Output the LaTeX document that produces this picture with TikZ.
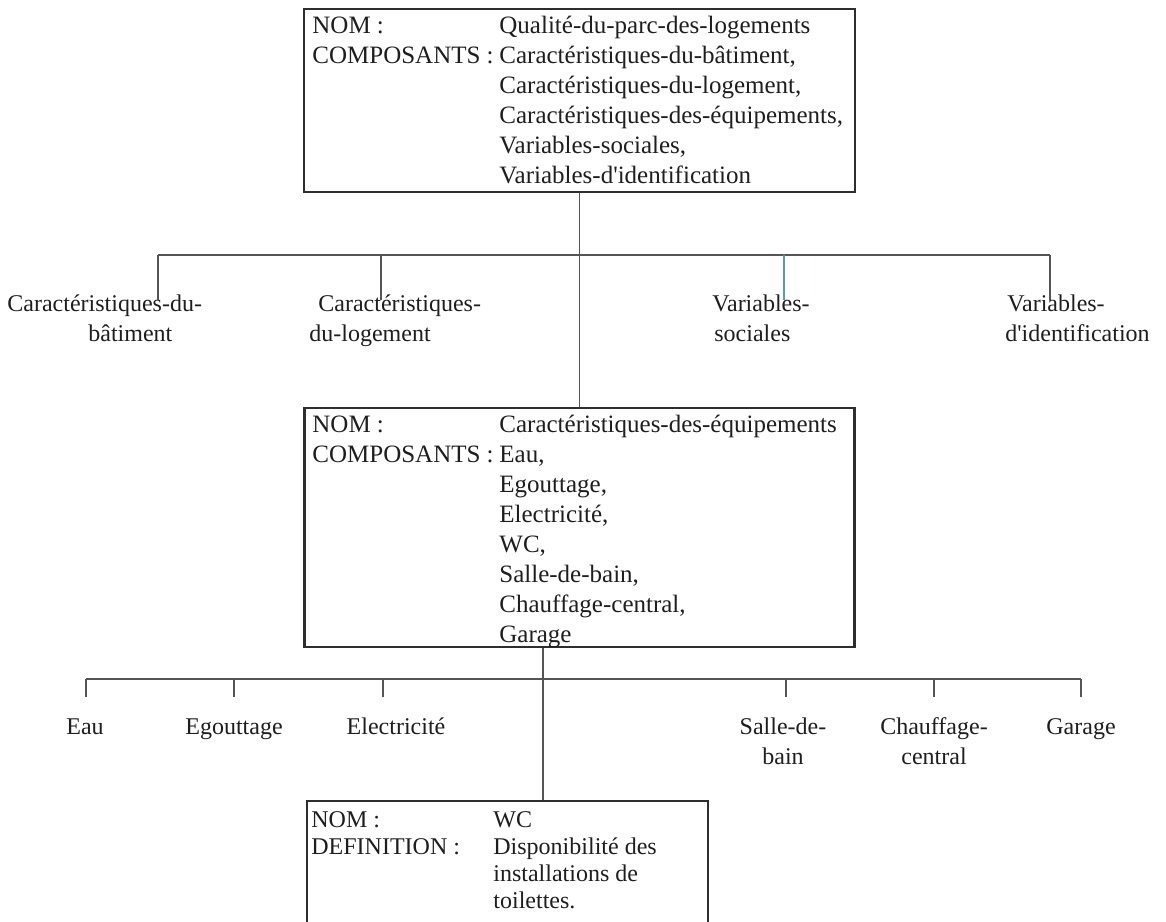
\documentclass[tikz,border=0pt]{standalone}
\usepackage{fontspec}
\setmainfont{Liberation Serif}[Ligatures=TeXOff]
\definecolor{ink}{HTML}{1E1E1E}
\definecolor{frameline}{HTML}{2E2E2E}
\definecolor{wirecol}{HTML}{555555}
\definecolor{tealwire}{HTML}{5E9E9E}
\begin{document}
\begin{tikzpicture}[x=0.5pt,y=-0.5pt,
  framebox/.style={draw=frameline,line width=1.3pt,inner sep=0pt},
  wire/.style={draw=wirecol,line width=0.75pt},
  txt/.style={anchor=base west,inner sep=0pt,text=ink,font=\fontsize{12.5}{15}\selectfont},
  lbl/.style={anchor=base west,inner sep=0pt,text=ink,font=\fontsize{12}{15}\selectfont},
  lblc/.style={anchor=base,inner sep=0pt,text=ink,font=\fontsize{12}{15}\selectfont}]

\useasboundingbox (0,0) rectangle (1166,921);
\clip (0,0) rectangle (1166,921);

% frames
\node[framebox,minimum width=275.5pt,minimum height=91.5pt] (top) at (579.5,100.5) {};
\node[framebox,minimum width=275pt,minimum height=119.5pt] (mid) at (579.5,527.5) {};
\node[framebox,minimum width=200.5pt,minimum height=69.5pt] (wc) at (507.5,870.5) {};

% top frame text
\node[txt] (topk1) at (312,33) {NOM :};
\node[txt] (topk2) at (312,63) {COMPOSANTS :};
\foreach \t [count=\i from 0] in {Qualité-du-parc-des-logements,{Caractéristiques-du-bâtiment,},{Caractéristiques-du-logement,},{Caractéristiques-des-équipements,},{Variables-sociales,},Variables-d'identification}
  \node[txt] (topv\i) at (499,{33+30*\i}) {\t};

% middle frame text
\node[txt] (midk1) at (312,432) {NOM :};
\node[txt] (midk2) at (312,462) {COMPOSANTS :};
\foreach \t [count=\i from 0] in {Caractéristiques-des-équipements,{Eau,},{Egouttage,},{Electricité,},{WC,},{Salle-de-bain,},{Chauffage-central,},Garage}
  \node[txt] (midv\i) at (499,{432+30*\i}) {\t};

% bottom frame text
\node[lbl] (wck1) at (311,827) {NOM :};
\node[lbl] (wck2) at (311,854) {DEFINITION :};
\foreach \t [count=\i from 0] in {WC,Disponibilité des,installations de,toilettes.}
  \node[lbl] (wcv\i) at (493,{827+27*\i}) {\t};

% first level
\draw[wire] (top.south) -- (mid.north);
\coordinate (b1w) at (158,255);
\coordinate (b1e) at (1050,255);
\draw[wire] (b1w) -- (b1e);
\foreach \x/\n in {158/a,381/b,1050/d}{
  \coordinate (s1\n) at (\x,255);
  \coordinate (f1\n) at (\x,300);
  \draw[wire] (s1\n) -- (f1\n);
}
\coordinate (s1c) at (784,255);
\coordinate (f1c) at (784,300);
\draw[wire,draw=tealwire] (s1c) -- (f1c);

\node[lbl] (l1a1) at (7,311) {Caractéristiques-du-};
\node[lbl] (l1a2) at (88,341) {bâtiment};
\node[lbl] (l1b1) at (318,311) {Caractéristiques-};
\node[lbl] (l1b2) at (309,341) {du-logement};
\node[lbl] (l1c1) at (712,311) {Variables-};
\node[lbl] (l1c2) at (714,341) {sociales};
\node[lbl] (l1d1) at (1007,311) {Variables-};
\node[lbl] (l1d2) at (1005,341) {d'identification};

% second level
\coordinate (mo) at (543,0);
\draw[wire] (mid.south -| mo) -- (wc.north -| mo);
\coordinate (b2w) at (86,679);
\coordinate (b2e) at (1081,679);
\draw[wire] (b2w) -- (b2e);
\foreach \x/\n in {86/a,234/b,383/c,786/d,934/e,1081/f}{
  \coordinate (s2\n) at (\x,679);
  \coordinate (f2\n) at (\x,697);
  \draw[wire] (s2\n) -- (f2\n);
}

\node[lblc] (l2a) at (85,734) {Eau};
\node[lblc] (l2b) at (234,734) {Egouttage};
\node[lblc] (l2c) at (396,734) {Electricité};
\node[lblc] (l2d1) at (783,734) {Salle-de-};
\node[lblc] (l2d2) at (783,764) {bain};
\node[lblc] (l2e1) at (934,734) {Chauffage-};
\node[lblc] (l2e2) at (934,764) {central};
\node[lblc] (l2f) at (1081,734) {Garage};
\end{tikzpicture}
\end{document}
